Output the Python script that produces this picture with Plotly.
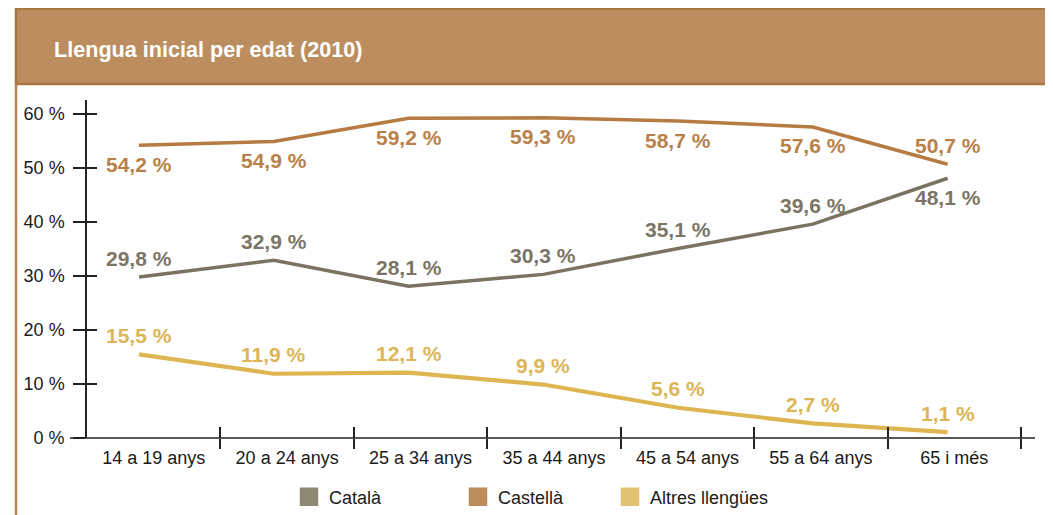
import plotly.graph_objects as go

# ---- data ----
categories = ["14 a 19 anys", "20 a 24 anys", "25 a 34 anys", "35 a 44 anys",
              "45 a 54 anys", "55 a 64 anys", "65 i més"]
catala = [29.8, 32.9, 28.1, 30.3, 35.1, 39.6, 48.1]
castella = [54.2, 54.9, 59.2, 59.3, 58.7, 57.6, 50.7]
altres = [15.5, 11.9, 12.1, 9.9, 5.6, 2.7, 1.1]
series_names = ["Català", "Castellà", "Altres llengües"]
y_ticks = [0, 10, 20, 30, 40, 50, 60]
y_ticktext = [f"{v} %" for v in y_ticks]
title_text = "Llengua inicial per edat (2010)"

# label sides: +1 above the point, -1 below
catala_side = [1, 1, 1, 1, 1, 1, -1]
castella_side = [-1, -1, -1, -1, -1, -1, 1]
altres_side = [1, 1, 1, 1, 1, 1, 1]

# ---- styling ----
FONT = "Liberation Sans, Arial, Helvetica, sans-serif"
line_colors = ["#7b7362", "#b57b42", "#ddb652"]
label_colors = ["#7c7565", "#b98149", "#ddb556"]
legend_colors = ["#8f8872", "#bc8c5d", "#e3c173"]
line_widths = [3.5, 3.5, 4.2]
legend_square_px = [309, 478, 630]

# page body has an 8px margin: work in screen pixels and shift into figure space
OFF = 8
SW, SH = 1053, 515            # screen size
W, H = SW - OFF, SH - OFF     # figure size
# plot area in screen pixels
PX0, PX1, PY0, PY1 = 87, 1035, 100, 438
L, R, T, B = PX0 - OFF, (OFF + W) - PX1, PY0 - OFF, (OFF + H) - PY1
PW, PH = PX1 - PX0, PY1 - PY0


def px2x(px):
    return (px - PX0) / PW


def px2y(py):
    return (PY1 - py) / PH


n = len(categories)
point_offset, point_step = 0.39, 1.01
pt_x = [point_offset + i * point_step for i in range(n)]
cat_x = [i + 0.5 for i in range(n)]

fig = go.Figure()
all_vals = [catala, castella, altres]
all_sides = [catala_side, castella_side, altres_side]

for k, vals in enumerate(all_vals):
    fig.add_trace(go.Scatter(x=pt_x, y=vals, mode="lines",
                             line=dict(color=line_colors[k], width=line_widths[k]),
                             showlegend=False, hoverinfo="skip", cliponaxis=False))

legend_keys = ["legend", "legend2", "legend3"]
for k, name in enumerate(series_names):
    fig.add_trace(go.Scatter(x=[None], y=[None], mode="markers", name=name,
                             legend=legend_keys[k],
                             marker=dict(symbol="square", size=16, color=legend_colors[k],
                                         line=dict(color=legend_colors[k], width=2.5))))

annotations = []
for k, vals in enumerate(all_vals):
    for i, v in enumerate(vals):
        annotations.append(dict(
            x=pt_x[i], y=v, xref="x", yref="y",
            text=f"{v:.1f}".replace(".", ",") + " %",
            showarrow=False, yanchor="middle", xanchor="center",
            yshift=19 * all_sides[k][i],
            font=dict(family=FONT, size=21, color=label_colors[k], weight="bold")))

shapes = [
    dict(type="rect", xref="paper", yref="paper",
         x0=px2x(16), x1=px2x(1052), y0=px2y(84), y1=px2y(8.5),
         fillcolor="#bc8e5f", line=dict(color="#a9753f", width=2.5), layer="below"),
    dict(type="line", xref="paper", yref="paper",
         x0=px2x(16), x1=px2x(16), y0=px2y(84), y1=px2y(520),
         line=dict(color="#b8834e", width=2.5)),
    dict(type="line", xref="paper", yref="paper",
         x0=px2x(1050), x1=px2x(1050), y0=px2y(84), y1=px2y(520),
         line=dict(color="#b8834e", width=2.5)),
    dict(type="line", xref="paper", yref="paper",
         x0=px2x(70), x1=1, y0=0, y1=0,
         line=dict(color="#222", width=1.5)),
]

xr = [0, PW / ((1021 - 87) / 7)]
yr = [0, PH / 5.4]

legend_common = dict(orientation="h", xanchor="left", yanchor="middle",
                     y=px2y(497), font=dict(size=18, color="#1a1a1a"),
                     bgcolor="rgba(0,0,0,0)", borderwidth=0)

fig.update_layout(
    width=W, height=H,
    margin=dict(l=L, r=R, t=T, b=B, pad=0, autoexpand=False),
    paper_bgcolor="white", plot_bgcolor="white",
    font=dict(family=FONT, size=18, color="#1a1a1a"),
    title=dict(text=title_text, x=(54 - OFF) / W, y=1 - (49 - OFF) / H,
               xref="container", yref="container",
               xanchor="left", yanchor="middle", automargin=False,
               font=dict(family=FONT, size=21.6, color="white", weight="bold")),
    xaxis=dict(range=xr, tickmode="array", tickvals=cat_x, ticktext=categories,
               showgrid=False, zeroline=False, showline=False, automargin=False,
               ticks="outside", ticklen=3, tickcolor="rgba(0,0,0,0)",
               tickfont=dict(size=18, color="#1a1a1a")),
    xaxis2=dict(overlaying="x", range=xr, tickmode="array", tickvals=list(range(1, n + 1)),
                showticklabels=False, showgrid=False, zeroline=False, showline=False,
                automargin=False,
                ticks="outside", ticklen=10, tickwidth=1.5, tickcolor="#222", anchor="y"),
    xaxis3=dict(overlaying="x", range=xr, tickmode="array", tickvals=list(range(1, n + 1)),
                showticklabels=False, showgrid=False, zeroline=False, showline=False,
                automargin=False,
                ticks="inside", ticklen=11, tickwidth=1.5, tickcolor="#222", anchor="y"),
    yaxis=dict(range=yr, tickmode="array", tickvals=y_ticks, ticktext=y_ticktext,
               showgrid=False, zeroline=False, showline=True, linecolor="#222", linewidth=1.5,
               automargin=False,
               ticks="outside", ticklen=12, tickwidth=1.5, tickcolor="#222",
               ticklabelstandoff=5, tickfont=dict(size=18, color="#1a1a1a")),
    yaxis2=dict(overlaying="y", range=yr, tickmode="array", tickvals=y_ticks[1:],
                showticklabels=False, showgrid=False, zeroline=False, showline=False,
                automargin=False,
                ticks="inside", ticklen=10, tickwidth=1.5, tickcolor="#222", anchor="x"),
    legend=dict(x=px2x(legend_square_px[0] - 20), **legend_common),
    legend2=dict(x=px2x(legend_square_px[1] - 20), **legend_common),
    legend3=dict(x=px2x(legend_square_px[2] - 20), **legend_common),
    shapes=shapes,
    annotations=annotations,
)
fig.add_trace(go.Scatter(x=[None], y=[None], xaxis="x2", yaxis="y", showlegend=False))
fig.add_trace(go.Scatter(x=[None], y=[None], xaxis="x3", yaxis="y", showlegend=False))
fig.add_trace(go.Scatter(x=[None], y=[None], xaxis="x", yaxis="y2", showlegend=False))

fig.write_html("out.html")
